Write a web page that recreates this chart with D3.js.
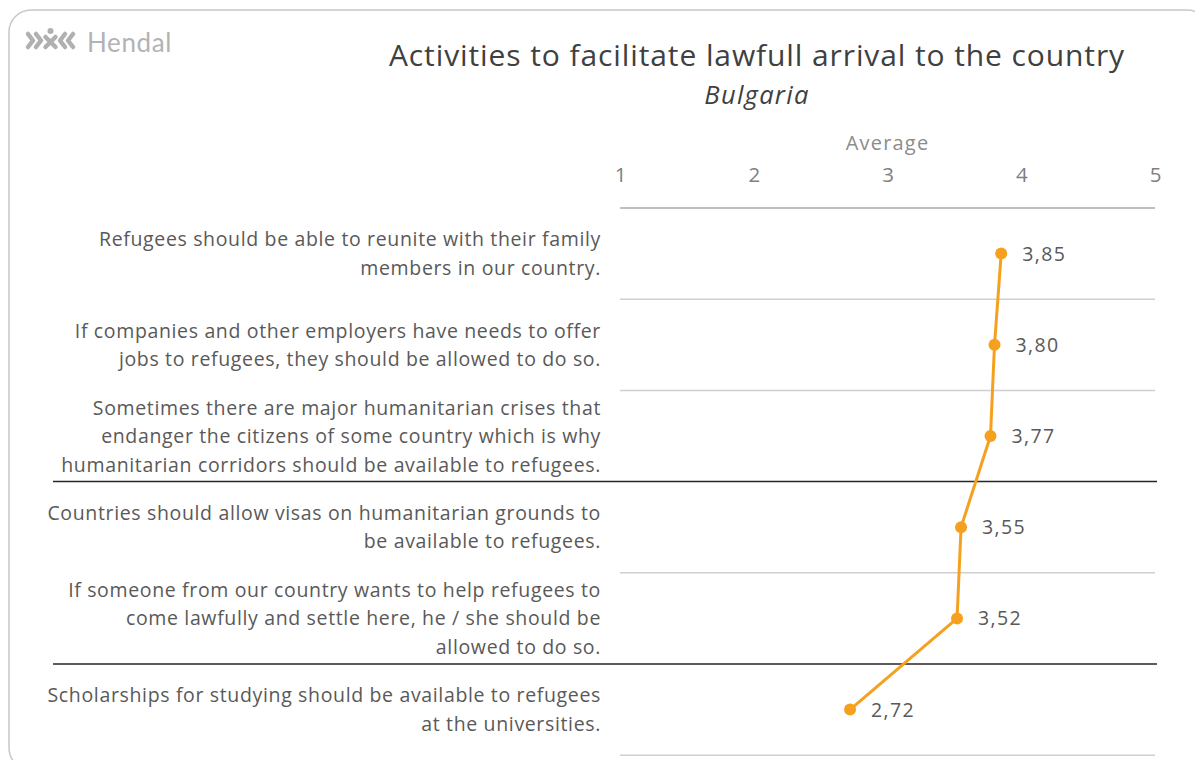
<!DOCTYPE html>
<html><head><meta charset="utf-8">
<script src="https://cdn.jsdelivr.net/npm/d3@7"></script>
<style>html,body{margin:0;padding:0;background:#fff;}svg{display:block;}</style>
</head><body>
<svg id="c" width="1195" height="760"></svg>
<script>
const title = "Activities to facilitate lawfull arrival to the country";
const subtitle = "Bulgaria";
const axisTitle = "Average";
const ticks = [1, 2, 3, 4, 5];
const categories = [
  ["Refugees should be able to reunite with their family", "members in our country."],
  ["If companies and other employers have needs to offer", "jobs to refugees, they should be allowed to do so."],
  ["Sometimes there are major humanitarian crises that", "endanger the citizens of some country which is why", "humanitarian corridors should be available to refugees."],
  ["Countries should allow visas on humanitarian grounds to", "be available to refugees."],
  ["If someone from our country wants to help refugees to", "come lawfully and settle here, he / she should be", "allowed to do so."],
  ["Scholarships for studying should be available to refugees", "at the universities."]
];
const values = [3.85, 3.80, 3.77, 3.55, 3.52, 2.72];
const groupBreaks = [3, 5]; // dark separator after these row counts

const svg = d3.select("#c");
const font = "'Open Sans', sans-serif";
const orange = "#F5A01E";

// card border
svg.append("rect").attr("x", 9).attr("y", 10).attr("width", 1200).attr("height", 760)
  .attr("rx", 22).attr("fill", "#fff").attr("stroke", "#c8c8c8").attr("stroke-width", 1.5);

// logo
const logo = svg.append("g").attr("fill", "none").attr("stroke", "#b0b0b0").attr("stroke-width", 4.5)
  .attr("stroke-linecap", "round").attr("stroke-linejoin", "round");
logo.append("path").attr("d", "M28,34 L33,40.5 L28,47");
logo.append("path").attr("d", "M36,34 L41,40.5 L36,47");
logo.append("path").attr("d", "M45.5,37 L55.5,47 M55.5,37 L45.5,47");
logo.append("circle").attr("cx", 50.5).attr("cy", 31).attr("r", 3).attr("stroke", "none").attr("fill", "#b0b0b0");
logo.append("path").attr("d", "M65,34 L60,40.5 L65,47");
logo.append("path").attr("d", "M73,34 L68,40.5 L73,47");
svg.append("text").attr("x", 87).attr("y", 52).text("Hendal")
  .attr("font-family", "Lato, sans-serif").attr("font-size", 26).attr("letter-spacing", 0.6).attr("fill", "#b3b3b3");

// titles
svg.append("text").attr("x", 757).attr("y", 66).attr("text-anchor", "middle").text(title)
  .attr("font-family", font).attr("font-size", 30).attr("letter-spacing", 0.9).attr("fill", "#404040");
svg.append("text").attr("x", 757).attr("y", 104).attr("text-anchor", "middle").text(subtitle)
  .attr("font-family", font).attr("font-size", 25.5).attr("letter-spacing", 1.3).attr("font-style", "italic").attr("fill", "#404040");

// scales
const x = d3.scaleLinear().domain([1, 5]).range([620, 1155]);
const rowTop = 208, rowH = 91.2;
const y = d3.scaleBand().domain(d3.range(categories.length)).range([rowTop, rowTop + rowH * categories.length]).padding(0);

// axis on top
const axis = d3.axisTop(x).tickValues(ticks).tickSize(0).tickPadding(0).tickFormat(d3.format("d"));
const ag = svg.append("g").attr("transform", "translate(0,182)").call(axis);
ag.select(".domain").remove();
ag.selectAll("text").attr("font-family", font).attr("font-size", 20.5).attr("fill", "#7f7f7f");
svg.append("text").attr("x", x(3)).attr("y", 150).attr("text-anchor", "middle").text(axisTitle)
  .attr("font-family", font).attr("font-size", 20).attr("letter-spacing", 1.2).attr("fill", "#8c8c8c");

// top line
svg.append("line").attr("x1", x(1)).attr("x2", x(5)).attr("y1", rowTop).attr("y2", rowTop)
  .attr("stroke", "#bfbfbf").attr("stroke-width", 2);

// row separators
d3.range(1, categories.length + 1).forEach(i => {
  const yy = y(i - 1) + y.bandwidth();
  const dark = groupBreaks.includes(i);
  svg.append("line").attr("x1", dark ? 53 : x(1)).attr("x2", dark ? 1157 : x(5))
    .attr("y1", yy).attr("y2", yy)
    .attr("stroke", dark ? "#262626" : "#d0d0d0").attr("stroke-width", 1.5);
});

// category labels
const lh = 28.5;
categories.forEach((lines, i) => {
  const cy = y(i) + y.bandwidth() / 2;
  const t = svg.append("text").attr("text-anchor", "end")
    .attr("font-family", font).attr("font-size", 19.5).attr("letter-spacing", 0.65).attr("fill", "#595959");
  lines.forEach((ln, j) => {
    t.append("tspan").attr("x", 601).attr("y", cy + (j - (lines.length - 1) / 2) * lh + 7).text(ln);
  });
});

// line
const line = d3.line().x(d => x(d)).y((d, i) => y(i) + y.bandwidth() / 2);
svg.append("path").datum(values).attr("d", line).attr("fill", "none")
  .attr("stroke", orange).attr("stroke-width", 3).attr("stroke-linejoin", "round");
svg.selectAll("circle.pt").data(values).join("circle").attr("class", "pt")
  .attr("cx", d => x(d)).attr("cy", (d, i) => y(i) + y.bandwidth() / 2).attr("r", 6).attr("fill", orange);
svg.selectAll("text.val").data(values).join("text").attr("class", "val")
  .attr("x", d => x(d) + 21).attr("y", (d, i) => y(i) + y.bandwidth() / 2 + 7)
  .text(d => d.toFixed(2).replace(".", ","))
  .attr("font-family", font).attr("font-size", 19.5).attr("letter-spacing", 1.4).attr("fill", "#595959");
</script>
</body></html>
